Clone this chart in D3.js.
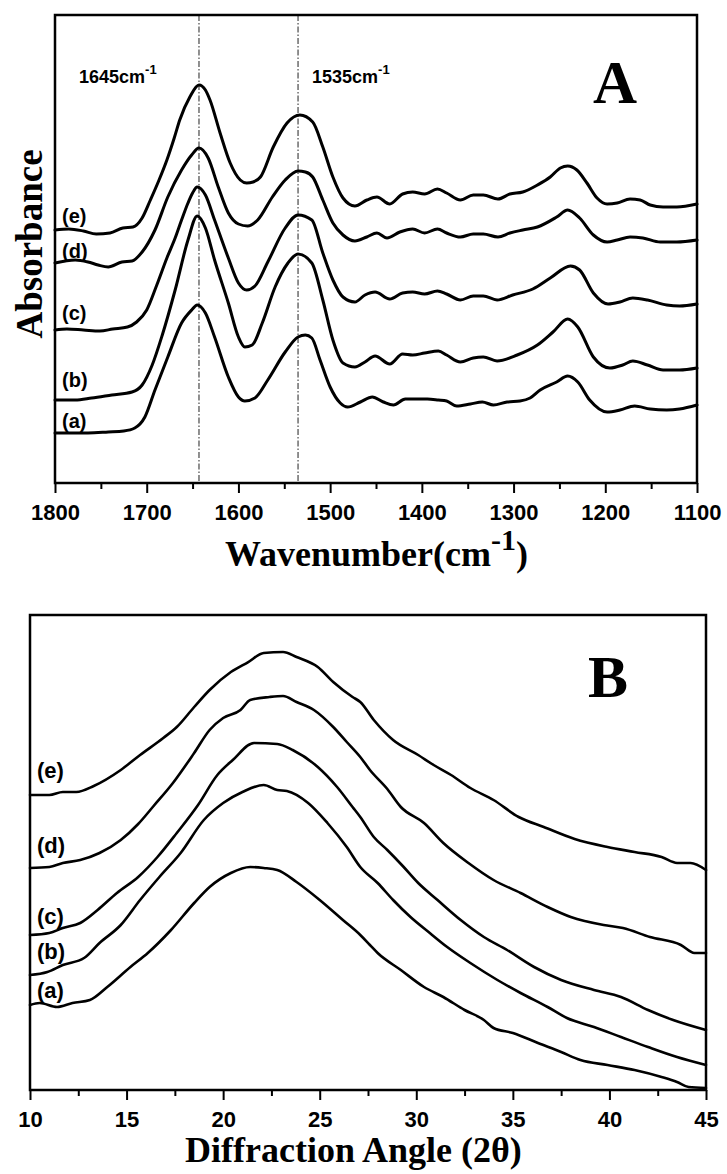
<!DOCTYPE html>
<html>
<head>
    <meta charset="utf-8">
    <title>FTIR and XRD</title>
    <script src="https://d3js.org/d3.v7.min.js"></script>
    <style>
        body { margin: 0; background: #fff; }
        .sans { font-family: "Liberation Sans", Arial, sans-serif; font-weight: bold; }
        .serif { font-family: "Liberation Serif", "Times New Roman", serif; font-weight: bold; }
        .curve { fill: none; stroke: #000; stroke-linejoin: round; stroke-linecap: round; }
        .frame { fill: none; stroke: #000; stroke-width: 2.5px; }
        .tick line { stroke: #000; stroke-width: 2px; }
    </style>
</head>
<body>
<div id="chart"></div>
<script>
// ---- panel A: FTIR spectra, [wavenumber, absorbance (a.u.)] ----
const ftirA = [[1800,0.50],[1764,0.50],[1742,0.51],[1725,0.52],[1713,0.55],[1702,0.66],[1691,0.93],[1677,1.26],[1662,1.60],[1651,1.73],[1645,1.78],[1636,1.70],[1626,1.46],[1611,1.06],[1600,0.86],[1593,0.82],[1582,0.85],[1568,1.03],[1549,1.31],[1535,1.46],[1527,1.48],[1520,1.45],[1511,1.23],[1500,0.96],[1489,0.80],[1481,0.76],[1467,0.81],[1454,0.86],[1442,0.81],[1431,0.78],[1418,0.84],[1402,0.84],[1394,0.84],[1382,0.83],[1373,0.82],[1362,0.77],[1347,0.79],[1334,0.81],[1322,0.78],[1307,0.81],[1293,0.82],[1282,0.85],[1271,0.93],[1253,1.01],[1241,1.07],[1230,1.01],[1217,0.83],[1198,0.71],[1184,0.73],[1168,0.77],[1151,0.74],[1133,0.73],[1119,0.74],[1100,0.78]];
const ftirB = [[1800,0.83],[1778,0.83],[1760,0.85],[1738,0.88],[1716,0.91],[1705,0.98],[1694,1.18],[1683,1.48],[1669,1.93],[1655,2.43],[1645,2.67],[1636,2.55],[1626,2.23],[1611,1.80],[1600,1.46],[1593,1.36],[1585,1.38],[1574,1.60],[1560,1.96],[1546,2.20],[1535,2.29],[1520,2.20],[1508,1.83],[1497,1.43],[1486,1.20],[1473,1.16],[1462,1.21],[1451,1.27],[1435,1.19],[1421,1.29],[1410,1.28],[1397,1.30],[1382,1.32],[1373,1.28],[1358,1.21],[1344,1.25],[1333,1.26],[1318,1.22],[1296,1.28],[1274,1.38],[1257,1.51],[1241,1.64],[1230,1.56],[1213,1.26],[1195,1.15],[1181,1.18],[1170,1.22],[1154,1.18],[1137,1.13],[1119,1.13],[1100,1.15]];
const ftirC = [[1800,1.53],[1787,1.54],[1769,1.53],[1751,1.52],[1737,1.54],[1721,1.56],[1711,1.61],[1700,1.73],[1689,1.98],[1678,2.25],[1669,2.45],[1662,2.63],[1655,2.80],[1650,2.90],[1645,2.96],[1636,2.88],[1626,2.63],[1611,2.25],[1600,2.00],[1591,1.93],[1582,1.97],[1568,2.21],[1549,2.55],[1535,2.68],[1520,2.63],[1508,2.30],[1497,2.03],[1486,1.86],[1473,1.81],[1462,1.88],[1451,1.91],[1435,1.84],[1421,1.90],[1410,1.91],[1397,1.89],[1383,1.92],[1373,1.89],[1358,1.83],[1344,1.87],[1333,1.87],[1318,1.83],[1301,1.88],[1279,1.94],[1260,2.05],[1238,2.17],[1228,2.13],[1213,1.90],[1197,1.79],[1184,1.81],[1170,1.85],[1154,1.83],[1133,1.78],[1119,1.77],[1100,1.79]];
const ftirD = [[1800,2.20],[1778,2.23],[1764,2.21],[1753,2.18],[1742,2.16],[1727,2.21],[1716,2.22],[1705,2.31],[1691,2.53],[1677,2.86],[1662,3.13],[1651,3.28],[1643,3.35],[1633,3.25],[1622,2.96],[1611,2.70],[1600,2.59],[1590,2.57],[1579,2.63],[1563,2.86],[1549,3.03],[1535,3.12],[1527,3.11],[1519,3.06],[1508,2.83],[1497,2.60],[1486,2.48],[1473,2.42],[1460,2.46],[1449,2.50],[1438,2.45],[1424,2.51],[1410,2.54],[1397,2.50],[1383,2.54],[1373,2.50],[1358,2.46],[1344,2.49],[1333,2.49],[1317,2.46],[1304,2.50],[1290,2.53],[1274,2.56],[1253,2.66],[1241,2.73],[1228,2.65],[1213,2.48],[1198,2.41],[1187,2.43],[1173,2.46],[1159,2.45],[1140,2.41],[1122,2.41],[1100,2.43]];
const ftirE = [[1800,2.53],[1785,2.54],[1769,2.52],[1755,2.49],[1740,2.50],[1726,2.55],[1715,2.56],[1705,2.65],[1696,2.83],[1687,3.02],[1678,3.23],[1670,3.45],[1664,3.63],[1653,3.86],[1643,3.98],[1636,3.93],[1631,3.83],[1620,3.50],[1609,3.20],[1598,3.03],[1591,3.00],[1584,3.01],[1576,3.06],[1562,3.36],[1547,3.60],[1533,3.68],[1519,3.61],[1508,3.36],[1497,3.06],[1486,2.85],[1473,2.77],[1460,2.83],[1449,2.86],[1435,2.79],[1421,2.89],[1410,2.91],[1397,2.89],[1383,2.94],[1373,2.90],[1358,2.83],[1344,2.88],[1333,2.88],[1317,2.84],[1304,2.89],[1290,2.91],[1274,2.98],[1260,3.06],[1249,3.15],[1241,3.17],[1231,3.13],[1220,3.00],[1209,2.85],[1198,2.79],[1187,2.80],[1173,2.84],[1162,2.83],[1151,2.78],[1137,2.76],[1122,2.76],[1100,2.79]];
const ftirTicks = [1800, 1700, 1600, 1500, 1400, 1300, 1200, 1100];
const ftirMinor = [1750, 1650, 1550, 1450, 1350, 1250, 1150];
const ftirPeaks = [1643, 1535];
const ftirPeakText = ["1645", "1535"];

// ---- panel B: XRD patterns, [2theta, intensity (a.u.)] ----
const xrdA = [[10,0.85],[10.5,0.87],[11.4,0.83],[12.2,0.87],[13.1,0.90],[14.0,1.03],[15.2,1.23],[16.1,1.37],[17.3,1.60],[18.5,1.87],[19.3,2.03],[20.4,2.17],[21.4,2.23],[22.1,2.22],[22.8,2.20],[23.8,2.08],[25.0,1.90],[26.2,1.70],[27.1,1.55],[27.6,1.45],[28.0,1.37],[29.2,1.20],[30.4,1.03],[31.4,0.93],[32.5,0.80],[33.5,0.70],[34.0,0.62],[35.0,0.57],[36.3,0.47],[37.5,0.38],[38.5,0.30],[39.9,0.25],[41.3,0.20],[42.7,0.13],[43.5,0.08],[44.1,0.03],[45,0.02]];
const xrdB = [[10,1.15],[10.9,1.18],[11.7,1.25],[12.8,1.32],[13.6,1.47],[14.7,1.65],[15.7,1.90],[16.7,2.13],[17.8,2.37],[19.0,2.70],[20.0,2.87],[21.0,2.98],[22.1,3.05],[22.8,3.00],[23.3,2.99],[24.4,2.87],[25.4,2.67],[26.4,2.43],[27.1,2.23],[28.0,2.07],[28.8,1.90],[29.7,1.73],[30.7,1.57],[31.6,1.43],[32.8,1.27],[34.2,1.10],[35.4,0.97],[36.8,0.83],[37.8,0.72],[39.2,0.63],[40.6,0.53],[42.0,0.43],[43.5,0.33],[45,0.25]];
const xrdC = [[10,1.55],[11,1.57],[11.7,1.62],[12.6,1.67],[13.5,1.80],[14.5,1.97],[15.6,2.13],[16.6,2.33],[17.6,2.57],[18.7,2.85],[19.7,3.15],[20.5,3.30],[21.6,3.47],[22.8,3.46],[23.6,3.40],[24.9,3.23],[25.9,3.03],[26.7,2.83],[27.1,2.73],[27.8,2.53],[28.5,2.40],[29.3,2.24],[30.1,2.07],[31.1,1.90],[32.3,1.70],[33.5,1.53],[34.7,1.40],[36.1,1.23],[37.5,1.10],[39.2,1.00],[40.6,0.93],[42.0,0.80],[43.3,0.70],[45,0.60]];
const xrdD = [[10,2.22],[11,2.23],[11.7,2.27],[12.6,2.30],[13.6,2.37],[14.7,2.50],[15.6,2.66],[16.4,2.84],[17.4,3.07],[18.5,3.37],[19.3,3.60],[20.0,3.72],[20.9,3.80],[21.4,3.90],[22.4,3.93],[23.1,3.94],[23.8,3.88],[24.7,3.80],[25.7,3.63],[26.4,3.48],[27.1,3.33],[27.6,3.20],[28.5,3.01],[29.2,2.83],[30.4,2.67],[31.4,2.47],[32.7,2.27],[34.0,2.10],[35.4,1.97],[36.8,1.83],[38.0,1.73],[39.7,1.65],[40.7,1.62],[42.1,1.53],[43.7,1.45],[44.4,1.37],[45,1.37]];
const xrdE = [[10,2.95],[11,2.95],[11.7,2.98],[12.4,2.98],[13.3,3.04],[14.7,3.20],[15.7,3.35],[16.9,3.52],[17.6,3.63],[18.5,3.83],[19.3,4.00],[20.4,4.18],[21.3,4.28],[22.1,4.37],[23.1,4.38],[23.8,4.33],[24.9,4.23],[25.7,4.08],[26.7,3.93],[27.1,3.88],[27.8,3.70],[28.8,3.50],[30.1,3.35],[30.9,3.25],[31.8,3.15],[32.8,3.02],[34.0,2.90],[35.3,2.73],[36.6,2.63],[38.2,2.51],[39.9,2.43],[41.3,2.38],[42.7,2.33],[43.5,2.27],[44.2,2.27],[45,2.20]];
const xrdTicks = [10, 15, 20, 25, 30, 35, 40, 45];
const xrdMinor = [12.5, 17.5, 22.5, 27.5, 32.5, 37.5, 42.5];

const sampleLabels = ["(a)", "(b)", "(c)", "(d)", "(e)"];

const svg = d3.select("#chart").append("svg")
    .attr("width", 727)
    .attr("height", 1174);

// ================= panel A =================
const a = { left: 55, right: 697, top: 15, bottom: 483 };
const xA = d3.scaleLinear().domain([1800, 1100]).range([a.left, a.right]);
const yA = d3.scaleLinear().domain([0, 4.68]).range([a.bottom, a.top]);

const lineA = d3.line()
    .x(d => xA(d[0]))
    .y(d => yA(d[1]))
    .curve(d3.curveMonotoneX);

// peak guide lines
ftirPeaks.forEach(function(p) {
    svg.append("line")
        .attr("x1", xA(p)).attr("x2", xA(p))
        .attr("y1", a.top).attr("y2", a.bottom)
        .attr("stroke", "#222")
        .attr("stroke-width", 1)
        .attr("stroke-dasharray", "6,2,1.5,2");
});

[ftirA, ftirB, ftirC, ftirD, ftirE].forEach(function(s) {
    svg.append("path")
        .datum(s)
        .attr("class", "curve")
        .attr("stroke-width", 3)
        .attr("d", lineA);
});

svg.append("rect")
    .attr("class", "frame")
    .attr("x", a.left).attr("y", a.top)
    .attr("width", a.right - a.left).attr("height", a.bottom - a.top);

function styleAxis(g) {
    g.select(".domain").remove();
    g.selectAll("text")
        .attr("class", "sans")
        .attr("font-size", 22)
        .attr("fill", "#000");
}

svg.append("g")
    .attr("transform", `translate(0,${a.bottom})`)
    .call(d3.axisBottom(xA).tickValues(ftirTicks).tickSize(10).tickPadding(11).tickFormat(d3.format("d")))
    .call(styleAxis);

svg.append("g")
    .attr("transform", `translate(0,${a.bottom})`)
    .call(d3.axisBottom(xA).tickValues(ftirMinor).tickSize(6).tickFormat(""))
    .call(styleAxis);

// peak captions
const peakX = [79, 312];
ftirPeakText.forEach(function(t, i) {
    const txt = svg.append("text")
        .attr("class", "sans")
        .attr("x", peakX[i]).attr("y", 83)
        .attr("font-size", 18)
        .text(t + "cm");
    txt.append("tspan")
        .attr("font-size", 13)
        .attr("dy", -9)
        .text("-1");
});

svg.append("text")
    .attr("class", "serif")
    .attr("x", 593).attr("y", 103)
    .attr("font-size", 61)
    .text("A");

const labelYA = [428, 387, 320, 258, 223];
sampleLabels.forEach(function(l, i) {
    svg.append("text")
        .attr("class", "sans")
        .attr("x", 62).attr("y", labelYA[i])
        .attr("font-size", 20)
        .text(l);
});

svg.append("text")
    .attr("class", "serif")
    .attr("transform", "translate(42,244) rotate(-90)")
    .attr("text-anchor", "middle")
    .attr("font-size", 37)
    .text("Absorbance");

const titleA = svg.append("text")
    .attr("class", "serif")
    .attr("x", 225).attr("y", 566)
    .attr("font-size", 36)
    .text("Wavenumber(cm");
titleA.append("tspan").attr("font-size", 30).attr("dy", -16).text("-1");
titleA.append("tspan").attr("dy", 16).text(")");

// ================= panel B =================
const b = { left: 30, right: 706, top: 615, bottom: 1090 };
const xB = d3.scaleLinear().domain([10, 45]).range([b.left, b.right]);
const yB = d3.scaleLinear().domain([0, 4.75]).range([b.bottom, b.top]);

const lineB = d3.line()
    .x(d => xB(d[0]))
    .y(d => yB(d[1]))
    .curve(d3.curveMonotoneX);

[xrdA, xrdB, xrdC, xrdD, xrdE].forEach(function(s) {
    svg.append("path")
        .datum(s)
        .attr("class", "curve")
        .attr("stroke-width", 2.6)
        .attr("d", lineB);
});

svg.append("rect")
    .attr("class", "frame")
    .attr("x", b.left).attr("y", b.top)
    .attr("width", b.right - b.left).attr("height", b.bottom - b.top);

svg.append("g")
    .attr("transform", `translate(0,${b.bottom})`)
    .call(d3.axisBottom(xB).tickValues(xrdTicks).tickSize(10).tickPadding(11).tickFormat(d3.format("d")))
    .call(styleAxis);

svg.append("g")
    .attr("transform", `translate(0,${b.bottom})`)
    .call(d3.axisBottom(xB).tickValues(xrdMinor).tickSize(6).tickFormat(""))
    .call(styleAxis);

svg.append("text")
    .attr("class", "serif")
    .attr("x", 588).attr("y", 697)
    .attr("font-size", 60)
    .text("B");

const labelYB = [998, 959, 924, 853, 778];
sampleLabels.forEach(function(l, i) {
    svg.append("text")
        .attr("class", "sans")
        .attr("x", 37).attr("y", labelYB[i])
        .attr("font-size", 22)
        .text(l);
});

svg.append("text")
    .attr("class", "serif")
    .attr("x", 185).attr("y", 1162)
    .attr("font-size", 36)
    .text("Diffraction Angle (2\u03b8)");
</script>
</body>
</html>
